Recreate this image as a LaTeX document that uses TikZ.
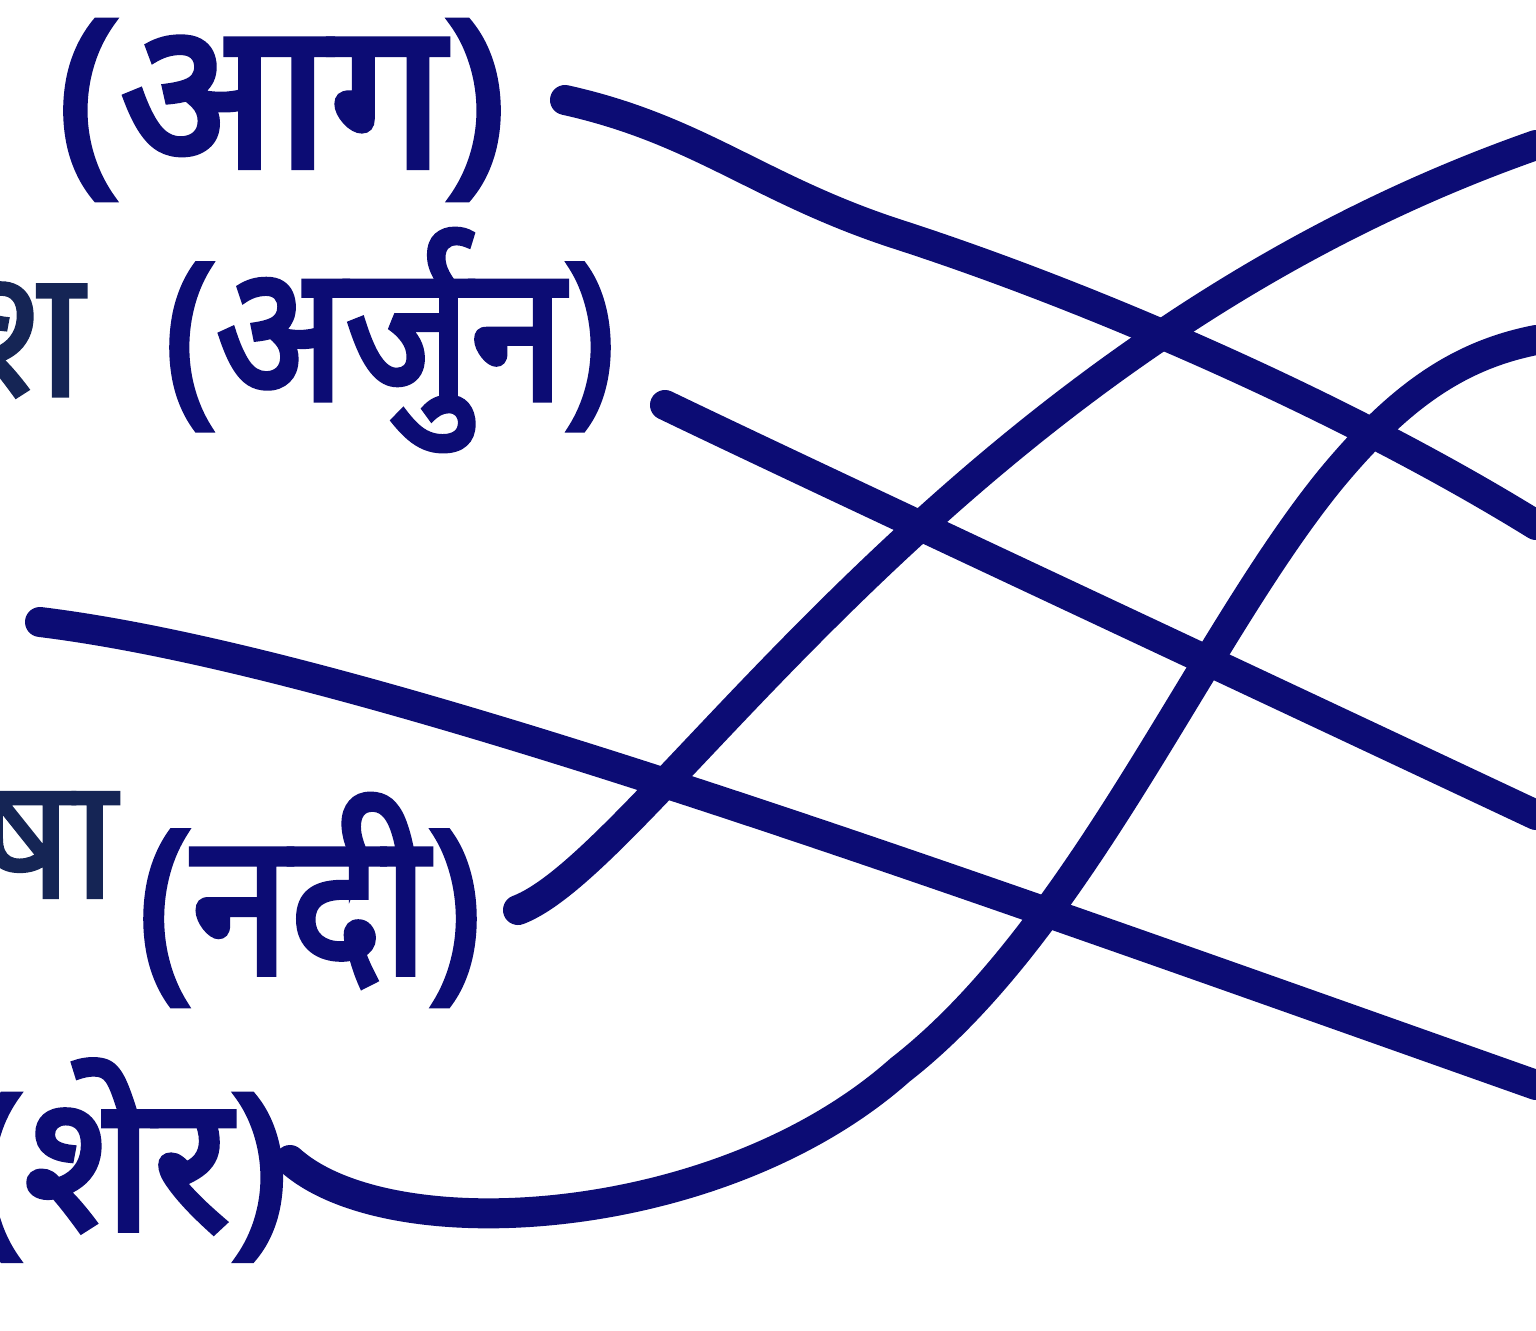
\documentclass[tikz,border=0pt]{standalone}
\usepackage{fontspec}
\newfontfamily\deva[Script=Devanagari,FakeBold=3]{Noto Sans}
\newfontfamily\devap[Script=Devanagari,FakeBold=1.5]{Noto Sans}
\definecolor{ink}{HTML}{0C0C74}
\definecolor{printink}{HTML}{152555}
\begin{document}
\begin{tikzpicture}[x=1pt,y=-1pt,
  wire/.style={draw=ink,line width=30pt,line cap=round},
  hand/.style={text=ink,inner sep=0pt},
  printed/.style={text=printink,inner sep=0pt}]
\useasboundingbox (0,0) rectangle (1536,1330);
\fill[white] (0,0) rectangle (1536,1330);

% text labels
\node[hand,font=\deva\fontsize{205}{205}\selectfont] (aag) at (282,110) {(आग)};
\node[printed,anchor=east,font=\devap\fontsize{180}{180}\selectfont] (sha) at (84,340) {श};
\node[hand,xscale=0.89,font=\deva\fontsize{190}{190}\selectfont] (arjun) at (390,340) {(अर्जुन)};
\node[printed,anchor=east,font=\devap\fontsize{170}{170}\selectfont] (ssha) at (117,845) {षा};
\node[hand,xscale=0.88,font=\deva\fontsize{200}{200}\selectfont] (nadi) at (310,900) {(नदी)};
\node[hand,anchor=east,font=\deva\fontsize{190}{190}\selectfont] (sher) at (288,1160) {(शेर)};

% connector end points
\coordinate (s1) at (565,100);
\coordinate (m1) at (900,235);
\coordinate (e1) at (1536,525);
\coordinate (s2) at (665,405);
\coordinate (e2) at (1536,815);
\coordinate (s3) at (40,622);
\coordinate (e3) at (1536,1085);
\coordinate (s4) at (518,910);
\coordinate (e4) at (1536,145);
\coordinate (s5) at (290,1160);
\coordinate (m5a) at (900,1070);
\coordinate (m5b) at (1330,480);
\coordinate (e5) at (1536,340);

% connectors
\draw[wire] (s1) .. controls (700,130) and (760,190) .. (m1)
            .. controls (1100,300) and (1350,410) .. (e1);
\draw[wire] (s2) .. controls (800,470) and (1100,610) .. (e2);
\draw[wire] (s3) .. controls (350,660) and (900,860) .. (e3);
\draw[wire] (s4) .. controls (650,860) and (950,350) .. (e4);
\draw[wire] (s5) .. controls (390,1250) and (720,1230) .. (m5a)
            .. controls (1080,930) and (1200,640) .. (m5b)
            .. controls (1400,395) and (1460,355) .. (e5);
\end{tikzpicture}
\end{document}
